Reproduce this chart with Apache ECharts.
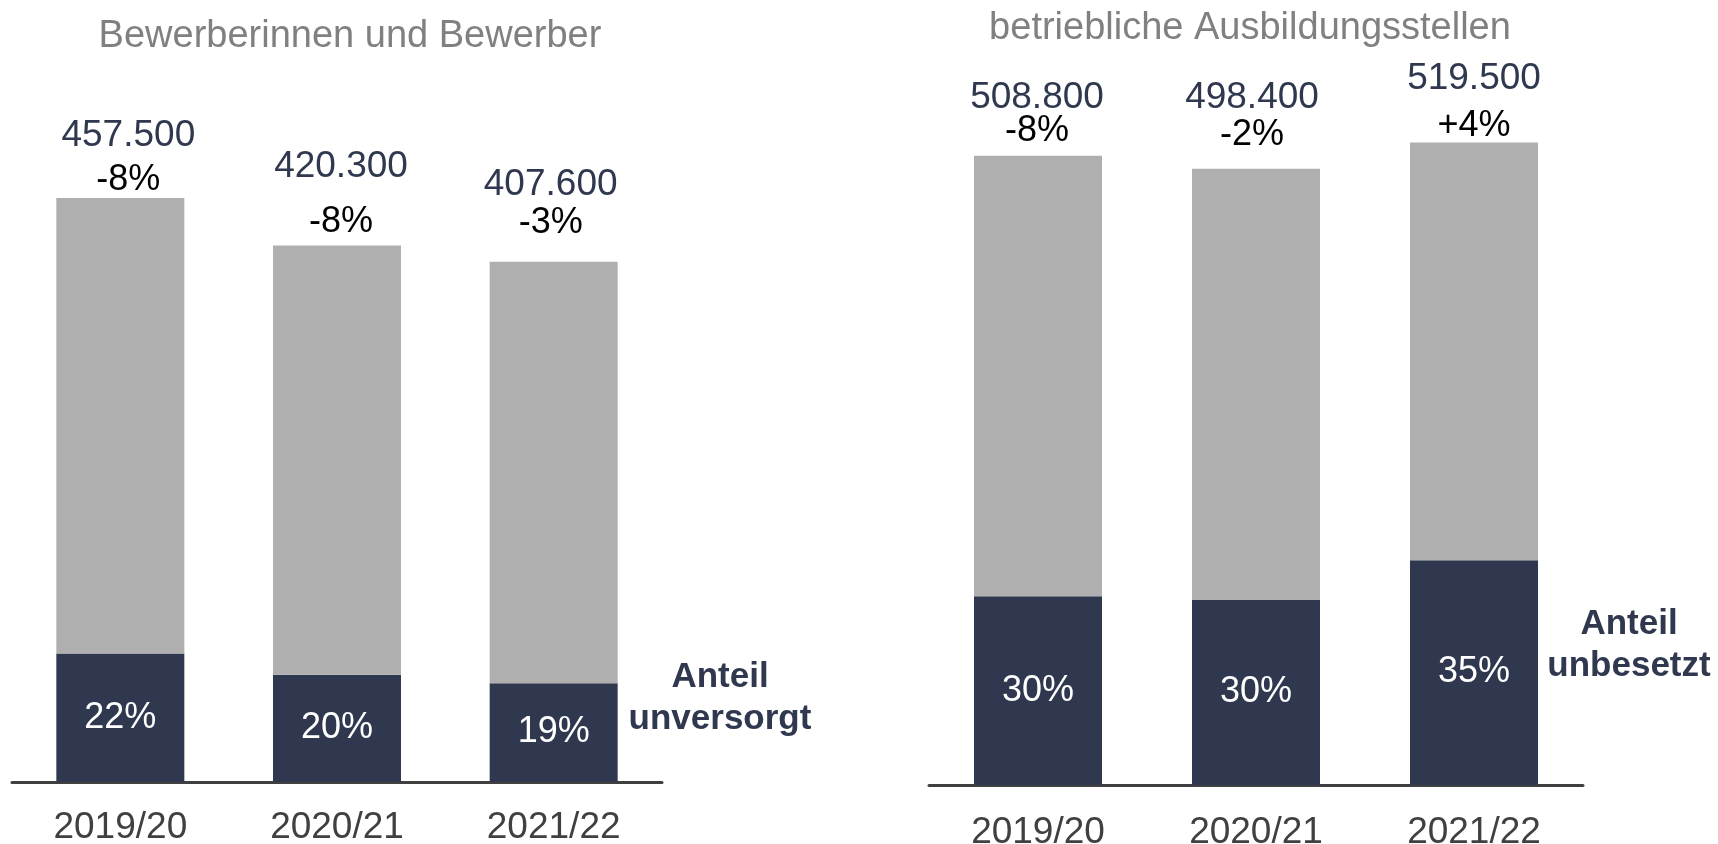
<!DOCTYPE html>
<html>
<head>
<meta charset="utf-8">
<script src="https://cdn.jsdelivr.net/npm/echarts@6/dist/echarts.min.js"></script>
<style>
  html, body { margin: 0; padding: 0; background: #ffffff; }
  #chart { width: 1718px; height: 844px; }
</style>
</head>
<body>
<div id="chart"></div>
<script>
// ---- data ----
const years = ['2019/20', '2020/21', '2021/22'];
const applicants = [457500, 420300, 407600];      // Bewerberinnen und Bewerber
const applicantsChange = [-8, -8, -3];           // % Veränderung
const unplacedShare = [22, 20, 19];              // Anteil unversorgt (%)
const places = [508800, 498400, 519500];         // betriebliche Ausbildungsstellen
const placesChange = [-8, -2, 4];                // % Veränderung
const vacantShare = [30, 30, 35];                // Anteil unbesetzt (%)

// ---- layout / style constants ----
const FONT = "'Liberation Sans', Arial, Helvetica, sans-serif";
const NAVY = '#2F384E';
const GREY = '#AFAFAF';
// per bar: [line height between the two top lines, distance of label block above bar, horizontal nudge]
const leftTopLayout = [[44, -4, 8], [55, -4, 4], [38, 20, -3]];
const rightTopLayout = [[33, 8, -1], [37, 15, -4], [48, -8, 0]];

function fmtNum(v) {
  return String(v).replace(/\B(?=(\d{3})+(?!\d))/g, '.');
}
function fmtChange(v) {
  return (v > 0 ? '+' : '') + v + '%';
}

function buildSeries(axisIdx, totals, changes, shares, layout) {
  const dark = totals.map((t, i) => t * shares[i] / 100);
  const rest = totals.map((t, i) => t - dark[i]);
  return [
    {
      type: 'bar', stack: 's' + axisIdx, xAxisIndex: axisIdx, yAxisIndex: axisIdx,
      barWidth: 128,
      itemStyle: { color: NAVY },
      label: {
        show: true, position: 'inside', color: '#ffffff',
        fontFamily: FONT, fontSize: 36,
        formatter: p => shares[p.dataIndex] + '%'
      },
      data: dark
    },
    {
      type: 'bar', stack: 's' + axisIdx, xAxisIndex: axisIdx, yAxisIndex: axisIdx,
      barWidth: 128,
      itemStyle: { color: GREY },
      data: rest.map((v, i) => ({
        value: v,
        label: {
          show: true, position: 'top', distance: layout[i][1], offset: [layout[i][2], 0],
          formatter: () => '{n|' + fmtNum(totals[i]) + '}\n{p|' + fmtChange(changes[i]) + '}',
          rich: {
            n: { fontFamily: FONT, fontSize: 37, color: NAVY, lineHeight: layout[i][0] },
            p: { fontFamily: FONT, fontSize: 36, color: '#000000', lineHeight: layout[i][0] }
          }
        }
      }))
    }
  ];
}

const chart = echarts.init(document.getElementById('chart'));

const xAxisCommon = {
  type: 'category',
  data: years,
  axisTick: { show: false },
  axisLine: { lineStyle: { color: '#404040', width: 3 } },
  axisLabel: { fontFamily: FONT, fontSize: 37, color: '#404040' }
};
const yAxisCommon = {
  type: 'value', min: 0, max: 600000,
  show: false, splitLine: { show: false }
};

const option = {
  animation: false,
  backgroundColor: '#ffffff',
  title: [
    {
      text: 'Bewerberinnen und Bewerber', left: 350, top: 18, textAlign: 'center', padding: 0,
      textStyle: { fontFamily: FONT, fontSize: 38, fontWeight: 'normal', color: '#808080' }
    },
    {
      text: 'betriebliche Ausbildungsstellen', left: 1250, top: 10, textAlign: 'center', padding: 0,
      textStyle: { fontFamily: FONT, fontSize: 38, fontWeight: 'normal', color: '#808080' }
    }
  ],
  grid: [
    { left: 12, width: 650, top: 16, bottom: 62, containLabel: false, outerBoundsMode: 'none' },
    { left: 929, width: 654, top: 43, bottom: 59, containLabel: false, outerBoundsMode: 'none' }
  ],
  xAxis: [
    Object.assign({}, xAxisCommon, { gridIndex: 0, axisLabel: Object.assign({}, xAxisCommon.axisLabel, { margin: 27 }) }),
    Object.assign({}, xAxisCommon, { gridIndex: 1, axisLabel: Object.assign({}, xAxisCommon.axisLabel, { margin: 29 }) })
  ],
  yAxis: [
    Object.assign({}, yAxisCommon, { gridIndex: 0 }),
    Object.assign({}, yAxisCommon, { gridIndex: 1 })
  ],
  graphic: [
    {
      type: 'text', x: 720, y: 698,
      style: {
        text: 'Anteil\nunversorgt', align: 'center', verticalAlign: 'middle',
        fontFamily: FONT, fontSize: 35, fontWeight: 'bold', lineHeight: 42, fill: NAVY
      }
    },
    {
      type: 'text', x: 1629, y: 645,
      style: {
        text: 'Anteil\nunbesetzt', align: 'center', verticalAlign: 'middle',
        fontFamily: FONT, fontSize: 35, fontWeight: 'bold', lineHeight: 42, fill: NAVY
      }
    }
  ],
  series: [].concat(
    buildSeries(0, applicants, applicantsChange, unplacedShare, leftTopLayout),
    buildSeries(1, places, placesChange, vacantShare, rightTopLayout)
  )
};

chart.setOption(option);
</script>
</body>
</html>
